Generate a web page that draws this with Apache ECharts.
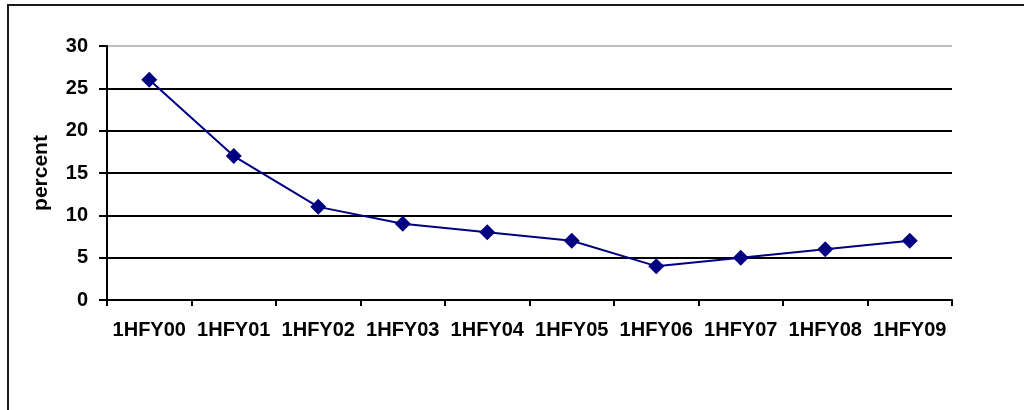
<!DOCTYPE html>
<html>
<head>
<meta charset="utf-8">
<script src="https://cdn.jsdelivr.net/npm/echarts@6/dist/echarts.min.js"></script>
<style>
  html, body { margin: 0; padding: 0; background: #fff; }
  #chart { width: 1024px; height: 410px; }
</style>
</head>
<body>
<div id="chart"></div>
<script>
// Half-year periods and the share (percent) for each
const periods = ['1HFY00', '1HFY01', '1HFY02', '1HFY03', '1HFY04', '1HFY05', '1HFY06', '1HFY07', '1HFY08', '1HFY09'];
const percentValues = [26, 17, 11, 9, 8, 7, 4, 5, 6, 7];
const yTicks = { min: 0, max: 30, step: 5 };

const FONT = '"Liberation Sans", Arial, sans-serif';

const chart = echarts.init(document.getElementById('chart'), null, { renderer: 'canvas' });

chart.setOption({
  animation: false,
  backgroundColor: '#ffffff',
  graphic: [
    // frame edges
    { type: 'line', shape: { x1: 7, y1: 5, x2: 1024, y2: 5 }, style: { stroke: '#1a1a1a', lineWidth: 2 } },
    { type: 'line', shape: { x1: 8, y1: 4, x2: 8, y2: 410 }, style: { stroke: '#1a1a1a', lineWidth: 2 } }
  ],
  grid: { left: 107, right: 72, top: 46, bottom: 110, containLabel: false },
  xAxis: {
    type: 'category',
    data: periods,
    boundaryGap: true,
    axisLine: { show: true, lineStyle: { color: '#000', width: 2 } },
    axisTick: { show: true, inside: false, length: 6, alignWithLabel: false, lineStyle: { color: '#000', width: 2 } },
    axisLabel: { color: '#000', fontFamily: FONT, fontWeight: 'bold', fontSize: 20, margin: 20, interval: 0 },
    splitLine: { show: false }
  },
  yAxis: {
    type: 'value',
    min: yTicks.min,
    max: yTicks.max,
    interval: yTicks.step,
    name: 'percent',
    nameLocation: 'middle',
    nameGap: 55,
    nameRotate: 90,
    nameTextStyle: { color: '#000', fontFamily: FONT, fontWeight: 'bold', fontSize: 21 },
    axisLine: { show: true, lineStyle: { color: '#000', width: 2 } },
    axisTick: { show: true, inside: false, length: 8, lineStyle: { color: '#000', width: 2 } },
    axisLabel: { color: '#000', fontFamily: FONT, fontWeight: 'bold', fontSize: 20, margin: 19 },
    splitLine: {
      show: true,
      lineStyle: { color: ['#000', '#000', '#000', '#000', '#000', '#000', '#c0c0c0'], width: 2 }
    }
  },
  series: [{
    type: 'line',
    data: percentValues,
    symbol: 'diamond',
    symbolSize: 16,
    showSymbol: true,
    lineStyle: { color: '#000080', width: 2 },
    itemStyle: { color: '#000080' },
    emphasis: { disabled: true }
  }]
});
</script>
</body>
</html>
